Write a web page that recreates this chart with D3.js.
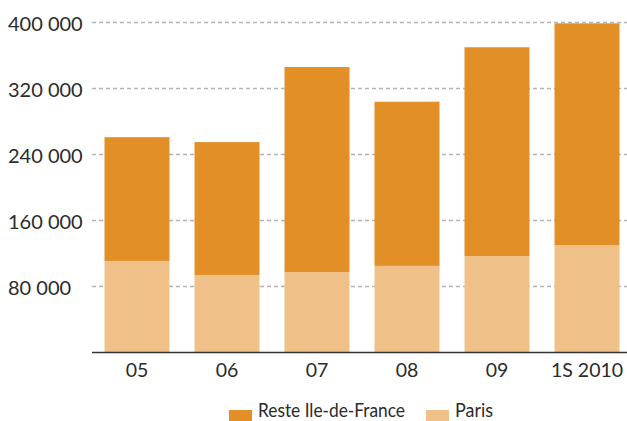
<!DOCTYPE html>
<html>
<head>
<meta charset="utf-8">
<script src="https://cdn.jsdelivr.net/npm/d3@7/dist/d3.min.js"></script>
<style>
  body { margin: 0; background: #fff; }
  svg { display: block; }
  text { font-family: Lato, "Liberation Sans", sans-serif; fill: #2b2b2b; }
</style>
</head>
<body>
<div id="chart"></div>
<script>
const categories = ['05', '06', '07', '08', '09', '1S 2010'];
const paris = [111000, 94000, 97500, 105000, 117000, 130000];
const reste = [150000, 161000, 248500, 199000, 253000, 269000];
const yTicks = [80000, 160000, 240000, 320000, 400000];
const seriesNames = ['Reste Ile-de-France', 'Paris'];

const width = 627, height = 421;
const colors = { paris: '#efc189', reste: '#e18f26' };

const svg = d3.select('#chart').append('svg')
  .attr('width', width)
  .attr('height', height);

const rows = categories.map((c, i) => ({ cat: c, paris: paris[i], reste: reste[i] }));
const stack = d3.stack().keys(['paris', 'reste']);
const layers = stack(rows);

const x = d3.scaleBand()
  .domain(categories)
  .range([92, 632])
  .paddingInner(25 / 90)
  .paddingOuter(12.5 / 90);

const y = d3.scaleLinear()
  .domain([0, 400000])
  .range([352.5, 22.5]);

const fmt = v => d3.format(',')(v).replace(/,/g, ' ');

// gridlines
svg.append('g')
  .selectAll('line')
  .data(yTicks)
  .enter()
  .append('line')
  .attr('x1', 92)
  .attr('x2', width)
  .attr('y1', d => y(d))
  .attr('y2', d => y(d))
  .attr('stroke', '#b3b3b3')
  .attr('stroke-width', 1.3)
  .attr('stroke-dasharray', '4,3');

svg.append('g')
  .selectAll('text')
  .data(yTicks)
  .enter()
  .append('text')
  .attr('x', 8)
  .attr('y', d => y(d) + 8)
  .style('font-size', '20px')
  .text(d => fmt(d));

// bars
svg.selectAll('g.layer')
  .data(layers)
  .enter()
  .append('g')
  .attr('class', 'layer')
  .attr('fill', d => colors[d.key])
  .selectAll('rect')
  .data(d => d)
  .enter()
  .append('rect')
  .attr('x', d => x(d.data.cat))
  .attr('width', x.bandwidth())
  .attr('y', d => y(d[1]))
  .attr('height', d => y(d[0]) - y(d[1]));

// x axis
svg.append('line')
  .attr('x1', 92)
  .attr('x2', width)
  .attr('y1', y(0))
  .attr('y2', y(0))
  .attr('stroke', '#333')
  .attr('stroke-width', 1.5);

svg.append('g')
  .selectAll('text')
  .data(categories)
  .enter()
  .append('text')
  .attr('x', d => x(d) + x.bandwidth() / 2)
  .attr('y', 377)
  .attr('text-anchor', 'middle')
  .style('font-size', '19.5px')
  .text(d => d);

// legend
const legend = [
  { name: seriesNames[0], color: colors.reste, x: 229, w: 147 },
  { name: seriesNames[1], color: colors.paris, x: 426, w: 38 }
];
const lg = svg.append('g')
  .selectAll('g')
  .data(legend)
  .enter()
  .append('g')
  .attr('transform', d => 'translate(' + d.x + ',0)');
lg.append('rect')
  .attr('y', 410)
  .attr('width', 23)
  .attr('height', 11)
  .attr('fill', d => d.color);
lg.append('text')
  .attr('x', 29)
  .attr('y', 417)
  .attr('textLength', d => d.w)
  .attr('lengthAdjust', 'spacingAndGlyphs')
  .style('font-size', '18.5px')
  .text(d => d.name);
</script>
</body>
</html>
